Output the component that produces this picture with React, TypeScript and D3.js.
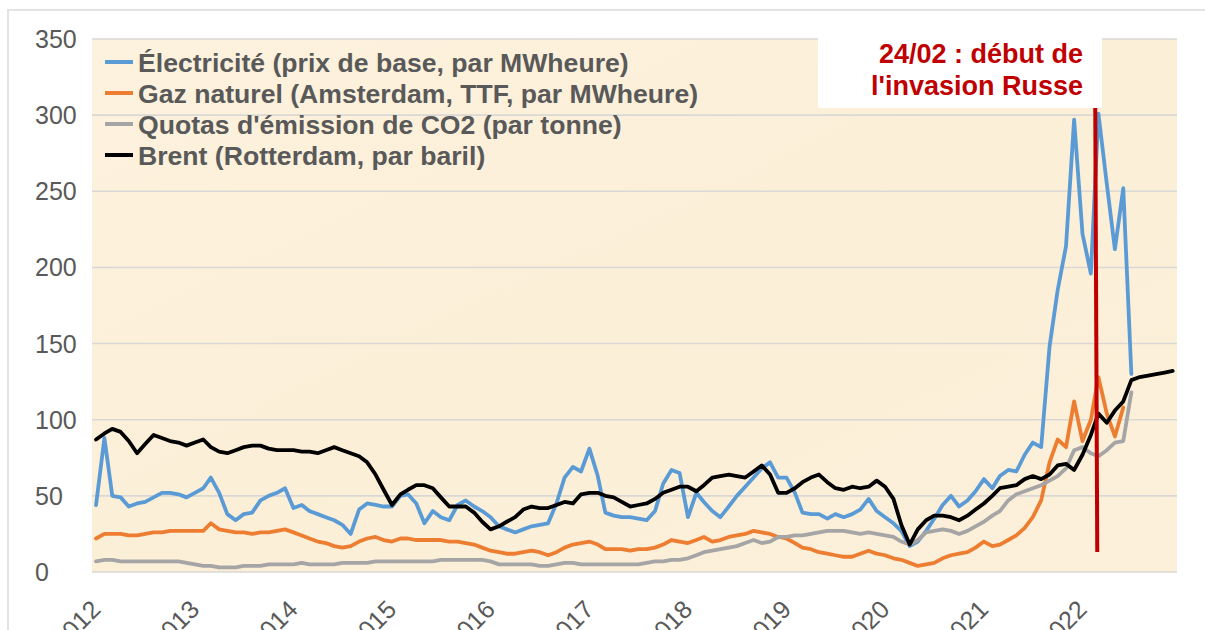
import React from "react";
import * as d3 from "d3";

// ---- Data (monthly, Jan 2012 onward) ----
const electricite: number[] = [
  44, 88, 50, 49, 43, 45, 46, 49, 52, 52, 51, 49,
  52, 55, 62, 52, 38, 34, 38, 39, 47, 50, 52, 55,
  42, 44, 40, 38, 36, 34, 31, 25, 41, 45, 44, 43,
  43, 50, 51, 45, 32, 40, 36, 34, 44, 47, 43, 40,
  36, 30, 28, 26, 28, 30, 31, 32, 45, 62, 69, 66,
  81, 63, 39, 37, 36, 36, 35, 34, 40, 58, 67, 65,
  36, 52, 46, 40, 36, 43, 50, 56, 62, 68, 72, 62,
  62, 52, 39, 38, 38, 35, 38, 36, 38, 41, 48, 40,
  36, 32, 27, 17, 20, 27, 35, 44, 50, 43, 47, 53,
  61, 55, 63, 67, 66, 77, 85, 82, 148, 185, 214, 297,
  222, 196, 301, 255, 212, 252, 130,
];
const gaz: number[] = [
  22, 25, 25, 25, 24, 24, 25, 26, 26, 27, 27, 27,
  27, 27, 32, 28, 27, 26, 26, 25, 26, 26, 27, 28,
  26, 24, 22, 20, 19, 17, 16, 17, 20, 22, 23, 21,
  20, 22, 22, 21, 21, 21, 21, 20, 20, 19, 18, 16,
  14, 13, 12, 12, 13, 14, 13, 11, 13, 16, 18, 19,
  20, 18, 15, 15, 15, 14, 15, 15, 16, 18, 21, 20,
  19, 21, 23, 20, 21, 23, 24, 25, 27, 26, 25, 23,
  22, 19, 16, 15, 13, 12, 11, 10, 10, 12, 14, 12,
  11, 9, 8, 6, 4, 5, 6, 9, 11, 12, 13, 16,
  20, 17, 18, 21, 24, 29, 36, 47, 72, 87, 82, 112,
  86, 100, 128, 104, 89, 108,
];
const co2: number[] = [
  7, 8, 8, 7, 7, 7, 7, 7, 7, 7, 7, 6,
  5, 4, 4, 3, 3, 3, 4, 4, 4, 5, 5, 5,
  5, 6, 5, 5, 5, 5, 6, 6, 6, 6, 7, 7,
  7, 7, 7, 7, 7, 7, 8, 8, 8, 8, 8, 8,
  7, 5, 5, 5, 5, 5, 4, 4, 5, 6, 6, 5,
  5, 5, 5, 5, 5, 5, 5, 6, 7, 7, 8, 8,
  9, 11, 13, 14, 15, 16, 17, 19, 21, 19, 20, 23,
  23, 24, 24, 25, 26, 27, 27, 27, 26, 25, 26, 25,
  24, 23, 20, 18, 21, 26, 27, 28, 27, 25, 27, 30,
  33, 37, 40, 47, 51, 53, 55, 57, 60, 63, 68, 80,
  82, 78, 76, 80, 85, 86, 118,
];
const brent: number[] = [
  87, 91, 94, 92, 86, 78, 84, 90, 88, 86, 85, 83,
  85, 87, 82, 79, 78, 80, 82, 83, 83, 81, 80, 80,
  80, 79, 79, 78, 80, 82, 80, 78, 76, 72, 64, 54,
  44, 51, 54, 57, 57, 55, 49, 43, 43, 43, 39, 33,
  28, 30, 33, 36, 41, 43, 42, 42, 44, 46, 45, 51,
  52, 52, 50, 49, 46, 43, 44, 45, 48, 52, 54, 56,
  56, 53, 57, 62, 63, 64, 63, 62, 66, 70, 64, 52,
  52, 55, 59, 62, 64, 59, 55, 54, 56, 55, 56, 60,
  56, 48, 31, 18, 28, 34, 37, 37, 36, 34, 37, 41,
  45, 50, 55, 56, 57, 61, 63, 61, 64, 70, 71, 67,
  77, 90, 104, 98, 106, 112, 126, 128, 129, 130, 131, 132,
];

const seriesNames = [
  "Électricité (prix de base, par MWheure)",
  "Gaz naturel (Amsterdam, TTF, par MWheure)",
  "Quotas d'émission de CO2 (par tonne)",
  "Brent (Rotterdam, par baril)",
];
const seriesColors = ["#5B9BD5", "#ED7D31", "#A5A5A5", "#000000"];
const seriesValues = [electricite, gaz, co2, brent];

const yTicks = [0, 50, 100, 150, 200, 250, 300, 350];
const yearTicks = [2012, 2013, 2014, 2015, 2016, 2017, 2018, 2019, 2020, 2021, 2022];
const annotationLines = ["24/02 : début de", "l'invasion Russe"];
const invasionMarkDate = new Date(2022, 2, 8); // drawn position of the 24/02 marker

const FONT = "'Liberation Sans', Arial, Helvetica, sans-serif";

export default function App() {
  const left = 92, right = 1177, top = 39, bottom = 572;
  const x = d3.scaleTime().domain([new Date(2012, 0, 1), new Date(2023, 0, 1)]).range([left, right]);
  const y = d3.scaleLinear().domain([0, 350]).range([bottom, top]);
  const dateOf = (i: number) => new Date(2012, i, 16);
  const line = d3
    .line<number>()
    .x((_, i) => x(dateOf(i)))
    .y((v) => y(v));

  const xr = x(invasionMarkDate);

  return (
    <svg
      width={1205}
      height={630}
      style={{ position: "absolute", left: 0, top: 0, fontFamily: FONT }}
    >
      <rect x={0} y={0} width={1205} height={630} fill="#ffffff" />
      <rect x={8} y={10} width={1210} height={640} fill="#ffffff" stroke="#E4E4E4" strokeWidth={2} />
      <defs>
        <linearGradient id="bgGrad" x1="0" y1="0" x2="1" y2="1">
          <stop offset="0" stopColor="#FDF2DE" />
          <stop offset="0.5" stopColor="#FCEFD8" />
          <stop offset="1" stopColor="#FCF0DA" />
        </linearGradient>
      </defs>
      <rect x={left} y={top} width={right - left} height={bottom - top} fill="url(#bgGrad)" />

      {yTicks.map((t) => (
        <line key={"g" + t} x1={left} x2={right} y1={y(t)} y2={y(t)} stroke="#DAD8D4" strokeWidth={1.6} />
      ))}
      {yTicks.map((t) => (
        <text key={"yl" + t} x={35} y={y(t)} dy="0.36em" fontSize={25} fill="#595959">
          {t}
        </text>
      ))}
      {yearTicks.map((yr) => {
        const tx = x(new Date(yr, 0, 1)) + 10;
        const ty = 611;
        return (
          <text
            key={"xl" + yr}
            x={tx}
            y={ty}
            fontSize={25}
            fill="#595959"
            textAnchor="end"
            transform={`rotate(-45, ${tx}, ${ty})`}
          >
            {yr}
          </text>
        );
      })}

      {seriesValues.map((vals, k) => (
        <path
          key={"s" + k}
          d={line(vals) || ""}
          fill="none"
          stroke={seriesColors[k]}
          strokeWidth={3.8}
          strokeLinejoin="round"
          strokeLinecap="round"
        />
      ))}

      {/* legend */}
      {seriesNames.map((name, k) => {
        const base = 71.5 + k * 31;
        return (
          <g key={"lg" + k}>
            <line x1={105} x2={133} y1={base - 9.5} y2={base - 9.5} stroke={seriesColors[k]} strokeWidth={4} />
            <text x={138} y={base} fontSize={26.6} fontWeight="bold" fill="#595959">
              {name}
            </text>
          </g>
        );
      })}

      {/* annotation */}
      <rect x={818} y={37} width={284} height={71} fill="#ffffff" />
      <line x1={xr - 1} x2={xr + 1} y1={108} y2={552} stroke="#C00000" strokeWidth={4} />
      {annotationLines.map((t, i) => (
        <text
          key={"an" + i}
          x={1083}
          y={63 + i * 32}
          fontSize={27}
          fontWeight="bold"
          fill="#C00000"
          textAnchor="end"
        >
          {t}
        </text>
      ))}
    </svg>
  );
}
